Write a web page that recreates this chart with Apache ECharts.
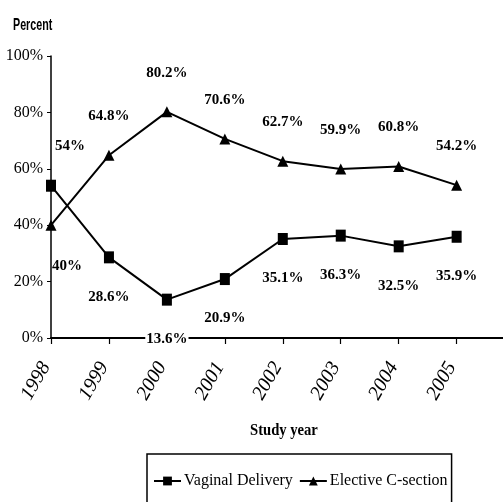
<!DOCTYPE html>
<html><head><meta charset="utf-8">
<script src="https://cdn.jsdelivr.net/npm/echarts@6/dist/echarts.min.js"></script>
<style>html,body{margin:0;padding:0;background:#fff}#c{width:503px;height:502px}</style>
</head><body><div id="c"></div>
<script>
const years = [1998, 1999, 2000, 2001, 2002, 2003, 2004, 2005];
const vaginal = [54, 28.6, 13.6, 20.9, 35.1, 36.3, 32.5, 35.9];
const csection = [40, 64.8, 80.2, 70.6, 62.7, 59.9, 60.8, 54.2];
const yTicks = [0, 20, 40, 60, 80, 100];

const serif = "'Liberation Serif','Times New Roman',serif";
const chart = echarts.init(document.getElementById('c'));

function mkData(vals, firstLabel, extra) {
  return years.map((y, i) => {
    const d = { value: [y, vals[i]] };
    if (i === 0) d.label = firstLabel;
    if (extra && extra[i]) d.label = Object.assign({}, d.label || {}, extra[i]);
    return d;
  });
}
const lblBase = { show: true, fontFamily: serif, fontWeight: 'bold', fontSize: 15, color: '#000',
  formatter: p => p.value[1] + '%' };

chart.setOption({
  animation: false,
  grid: { left: 51, right: 0, top: 56, bottom: 164 },
  xAxis: {
    type: 'value', min: 1998, max: 2005.8,
    axisLine: { lineStyle: { color: '#000', width: 2 } },
    axisTick: { customValues: years, length: 6, lineStyle: { color: '#000', width: 1.2 } },
    axisLabel: { customValues: years, rotate: 60, margin: 17, padding: [0, 10, 0, 0], fontFamily: serif, fontStyle: 'italic',
      fontSize: 20, color: '#000', formatter: v => String(v) },
    splitLine: { show: false }
  },
  yAxis: {
    type: 'value', min: 0, max: 100, interval: 20,
    axisLine: { show: true, lineStyle: { color: '#000', width: 1.5 } },
    axisTick: { show: true, length: 4, lineStyle: { color: '#000' } },
    axisLabel: { customValues: yTicks, margin: 8, fontFamily: serif, fontSize: 16, color: '#000', formatter: v => v + '%' },
    splitLine: { show: false }
  },
  legend: {
    left: 147, top: 454, orient: 'horizontal',
    padding: [19, 4, 30, 6], itemGap: 6, itemWidth: 27, itemHeight: 11,
    borderColor: '#000', borderWidth: 1.5,
    textStyle: { fontFamily: serif, fontSize: 16, color: '#000', padding: [0, 0, 0, -2] },
    data: ['Vaginal Delivery', 'Elective C-section']
  },
  graphic: [
    { type: 'text', x: 13, y: 17, scaleX: 0.63, style: { text: 'Percent', fontFamily: "'Liberation Sans',Arial,sans-serif",
      fontWeight: 'bold', fontSize: 17, fill: '#000' } },
    { type: 'text', x: 250, y: 422, scaleX: 0.86, style: { text: 'Study year', fontFamily: serif,
      fontWeight: 'bold', fontSize: 17, fill: '#000' } }
  ],
  series: [
    {
      name: 'Vaginal Delivery', type: 'line', symbol: 'rect', symbolSize: [10, 12],
      lineStyle: { color: '#000', width: 2 }, itemStyle: { color: '#000' },
      label: Object.assign({}, lblBase, { position: 'bottom', distance: 26 }),
      data: mkData(vaginal, { position: 'top', distance: 26, offset: [19, 0] },
        { 2: { backgroundColor: '#fff', padding: [0, 1] } })
    },
    {
      name: 'Elective C-section', type: 'line', symbol: 'triangle', symbolSize: [11, 11],
      lineStyle: { color: '#000', width: 2 }, itemStyle: { color: '#000' },
      label: Object.assign({}, lblBase, { position: 'top', distance: 26 }),
      data: mkData(csection, { position: 'bottom', distance: 28, offset: [16, 0] })
    }
  ]
});
</script></body></html>
